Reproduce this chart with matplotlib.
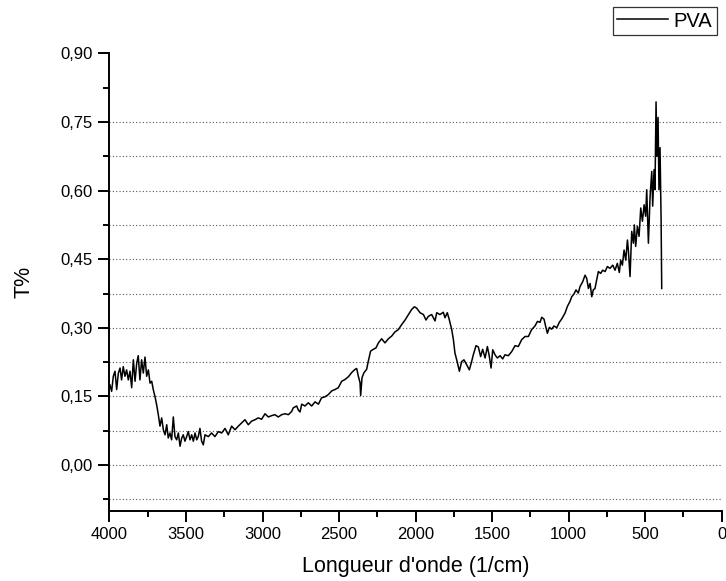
import matplotlib
matplotlib.use('Agg')
import matplotlib.pyplot as plt
from matplotlib.ticker import MultipleLocator, FuncFormatter

plt.rcParams['font.family'] = ['Liberation Sans', 'DejaVu Sans']

# FTIR spectrum of the PVA film, wavenumber (1/cm) vs transmittance
wavenumber = [
    3997, 3986, 3975, 3964, 3953, 3942, 3931, 3921, 3910, 3899, 3888, 3877,
    3866, 3855, 3844, 3833, 3822, 3812, 3801, 3790, 3779, 3768, 3757, 3746,
    3735, 3724, 3714, 3703, 3692, 3681, 3670, 3659, 3648, 3637, 3626, 3616,
    3605, 3594, 3583, 3572, 3561, 3550, 3539, 3528, 3518, 3507, 3496, 3485,
    3474, 3463, 3452, 3441, 3430, 3420, 3409, 3398, 3387, 3376, 3354, 3333,
    3311, 3289, 3267, 3245, 3224, 3202, 3180, 3158, 3136, 3115, 3093, 3071,
    3049, 3028, 3006, 2984, 2962, 2940, 2919, 2897, 2875, 2853, 2831, 2810,
    2799, 2777, 2766, 2755, 2744, 2723, 2701, 2679, 2657, 2635, 2614, 2592,
    2570, 2548, 2527, 2505, 2483, 2461, 2439, 2418, 2396, 2385, 2374, 2363,
    2359, 2350, 2337, 2320, 2309, 2294, 2276, 2259, 2243, 2222, 2200, 2178,
    2156, 2135, 2113, 2091, 2069, 2047, 2026, 2008, 1993, 1971, 1949, 1932,
    1917, 1895, 1873, 1862, 1841, 1819, 1808, 1793, 1780, 1764, 1753, 1743,
    1727, 1714, 1699, 1684, 1666, 1649, 1634, 1623, 1605, 1590, 1575, 1562,
    1546, 1531, 1518, 1507, 1496, 1481, 1466, 1448, 1431, 1416, 1394, 1372,
    1350, 1329, 1307, 1285, 1263, 1242, 1220, 1204, 1187, 1176, 1161, 1148,
    1139, 1126, 1111, 1096, 1078, 1061, 1046, 1024, 1008, 991, 980, 965,
    952, 937, 926, 908, 893, 882, 871, 860, 849, 839, 828, 817,
    806, 791, 778, 762, 747, 730, 712, 697, 682, 669, 660, 649,
    638, 627, 616, 610, 599, 588, 577, 571, 562, 551, 540, 529,
    518, 507, 497, 490, 479, 468, 457, 451, 442, 436, 429, 423,
    416, 410, 403, 396, 392,
]
transmittance = [
    0.175, 0.161, 0.194, 0.205, 0.165, 0.201, 0.212, 0.186, 0.215, 0.194, 0.208, 0.186,
    0.205, 0.169, 0.230, 0.183, 0.223, 0.239, 0.186, 0.230, 0.201, 0.236, 0.194, 0.208,
    0.179, 0.183, 0.165, 0.150, 0.132, 0.110, 0.085, 0.103, 0.077, 0.066, 0.088, 0.059,
    0.070, 0.055, 0.105, 0.062, 0.055, 0.070, 0.041, 0.059, 0.066, 0.052, 0.062, 0.073,
    0.055, 0.066, 0.052, 0.070, 0.055, 0.062, 0.080, 0.052, 0.044, 0.066, 0.062, 0.070,
    0.062, 0.073, 0.070, 0.080, 0.066, 0.085, 0.077, 0.085, 0.092, 0.099, 0.088, 0.096,
    0.099, 0.103, 0.100, 0.112, 0.105, 0.108, 0.110, 0.105, 0.110, 0.112, 0.110, 0.117,
    0.125, 0.129, 0.120, 0.116, 0.133, 0.129, 0.136, 0.129, 0.138, 0.133, 0.147, 0.149,
    0.154, 0.162, 0.165, 0.169, 0.183, 0.187, 0.193, 0.202, 0.209, 0.211, 0.194, 0.180,
    0.152, 0.191, 0.202, 0.209, 0.227, 0.249, 0.253, 0.256, 0.267, 0.276, 0.267, 0.276,
    0.282, 0.291, 0.296, 0.307, 0.317, 0.329, 0.340, 0.346, 0.343, 0.333, 0.329, 0.317,
    0.325, 0.329, 0.315, 0.333, 0.329, 0.334, 0.322, 0.333, 0.318, 0.296, 0.274, 0.245,
    0.224, 0.205, 0.226, 0.230, 0.219, 0.208, 0.226, 0.241, 0.261, 0.258, 0.237, 0.253,
    0.234, 0.259, 0.237, 0.212, 0.252, 0.241, 0.234, 0.239, 0.232, 0.241, 0.239, 0.248,
    0.261, 0.259, 0.274, 0.281, 0.281, 0.296, 0.304, 0.314, 0.312, 0.323, 0.319, 0.300,
    0.288, 0.301, 0.297, 0.304, 0.300, 0.312, 0.319, 0.332, 0.347, 0.358, 0.368, 0.374,
    0.383, 0.376, 0.390, 0.401, 0.415, 0.408, 0.386, 0.397, 0.368, 0.383, 0.386, 0.405,
    0.423, 0.419, 0.426, 0.423, 0.434, 0.430, 0.437, 0.426, 0.441, 0.421, 0.448, 0.437,
    0.470, 0.448, 0.492, 0.470, 0.412, 0.511, 0.485, 0.525, 0.478, 0.522, 0.500, 0.562,
    0.533, 0.569, 0.544, 0.602, 0.485, 0.587, 0.642, 0.566, 0.646, 0.602, 0.794, 0.675,
    0.760, 0.602, 0.694, 0.536, 0.386,
]

fig = plt.figure(figsize=(7.26, 5.81), dpi=100)
ax = fig.add_axes([0.1508, 0.121, 0.8433, 0.787])

ax.plot(wavenumber, transmittance, color='black', lw=1.1, label='PVA')

ax.set_xlim(4000, 0)
ax.set_ylim(-0.1, 0.9)

# dotted guide lines on every major and minor y tick (none on the top edge)
for k in range(-1, 12):
    yv = -0.075 + k * 0.075
    if yv < 0.89:
        ax.axhline(yv, color='#555555', lw=0.8, ls=(0, (1, 2)), zorder=0)

ax.xaxis.set_major_locator(MultipleLocator(500))
ax.xaxis.set_minor_locator(MultipleLocator(250))
ax.yaxis.set_major_locator(MultipleLocator(0.15))
ax.yaxis.set_minor_locator(MultipleLocator(0.075))
ax.yaxis.set_major_formatter(FuncFormatter(lambda v, p: ('%.2f' % v).replace('.', ',').replace('-0,00', '0,00')))

for side in ['top', 'right']:
    ax.spines[side].set_visible(False)
for side in ['left', 'bottom']:
    ax.spines[side].set_linewidth(1.4)

ax.tick_params(which='major', direction='out', length=8, width=1.4, labelsize=12, pad=4)
ax.tick_params(which='minor', direction='out', length=4.5, width=1.4)

ax.set_xlabel("Longueur d'onde (1/cm)", fontsize=15.5, labelpad=10)
ax.set_ylabel('T%', fontsize=15.5, labelpad=19)

leg = fig.legend(loc='upper right', bbox_to_anchor=(716.5 / 726, 1 - 7.5 / 581),
                 fontsize=14.5, frameon=True, fancybox=False, borderpad=0.2,
                 handlelength=2.5, handletextpad=0.3, borderaxespad=0)
leg.get_frame().set_edgecolor('black')
leg.get_frame().set_linewidth(0.9)

fig.savefig('out.png', dpi=100)
